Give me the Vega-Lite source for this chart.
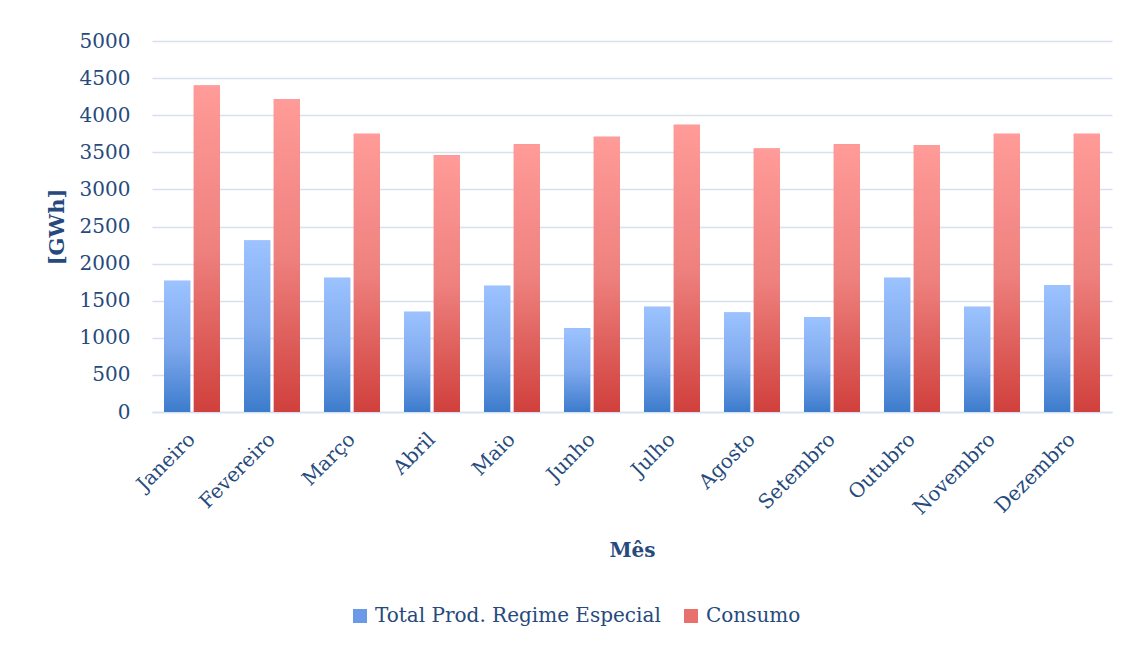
{
  "$schema": "https://vega.github.io/schema/vega-lite/v6.json",
  "width": 960,
  "height": 371,
  "autosize": {"type": "none"},
  "padding": {"left": 152, "top": 41, "right": 18, "bottom": 234},
  "background": "white",
  "config": {
    "font": "DejaVu Serif",
    "view": {"stroke": null}
  },
  "data": {
    "values": [
      {"mes": "Janeiro", "serie": "Total Prod. Regime Especial", "gwh": 1770},
      {"mes": "Janeiro", "serie": "Consumo", "gwh": 4400},
      {"mes": "Fevereiro", "serie": "Total Prod. Regime Especial", "gwh": 2310},
      {"mes": "Fevereiro", "serie": "Consumo", "gwh": 4220},
      {"mes": "Março", "serie": "Total Prod. Regime Especial", "gwh": 1810},
      {"mes": "Março", "serie": "Consumo", "gwh": 3750},
      {"mes": "Abril", "serie": "Total Prod. Regime Especial", "gwh": 1350},
      {"mes": "Abril", "serie": "Consumo", "gwh": 3460},
      {"mes": "Maio", "serie": "Total Prod. Regime Especial", "gwh": 1700},
      {"mes": "Maio", "serie": "Consumo", "gwh": 3610},
      {"mes": "Junho", "serie": "Total Prod. Regime Especial", "gwh": 1130},
      {"mes": "Junho", "serie": "Consumo", "gwh": 3710},
      {"mes": "Julho", "serie": "Total Prod. Regime Especial", "gwh": 1420},
      {"mes": "Julho", "serie": "Consumo", "gwh": 3870},
      {"mes": "Agosto", "serie": "Total Prod. Regime Especial", "gwh": 1340},
      {"mes": "Agosto", "serie": "Consumo", "gwh": 3550},
      {"mes": "Setembro", "serie": "Total Prod. Regime Especial", "gwh": 1280},
      {"mes": "Setembro", "serie": "Consumo", "gwh": 3610},
      {"mes": "Outubro", "serie": "Total Prod. Regime Especial", "gwh": 1810},
      {"mes": "Outubro", "serie": "Consumo", "gwh": 3600},
      {"mes": "Novembro", "serie": "Total Prod. Regime Especial", "gwh": 1420},
      {"mes": "Novembro", "serie": "Consumo", "gwh": 3750},
      {"mes": "Dezembro", "serie": "Total Prod. Regime Especial", "gwh": 1710},
      {"mes": "Dezembro", "serie": "Consumo", "gwh": 3750}
    ]
  },
  "encoding": {
    "x": {
      "field": "mes",
      "type": "nominal",
      "sort": null,
      "title": "Mês",
      "scale": {"paddingInner": 0.3, "paddingOuter": 0.15},
      "axis": {
        "labelAngle": -45,
        "labelAlign": "right",
        "labelBaseline": "middle",
        "labelPadding": 24,
        "labelFontSize": 20,
        "labelColor": "#264A7D",
        "ticks": false,
        "domainColor": "#D5E0F0",
        "domainWidth": 1.5,
        "titleFontSize": 20,
        "titleFontWeight": "bold",
        "titleColor": "#264A7D",
        "titlePadding": 22
      }
    },
    "xOffset": {
      "field": "serie",
      "type": "nominal",
      "sort": ["Total Prod. Regime Especial", "Consumo"],
      "scale": {"paddingInner": 0.12}
    },
    "y": {
      "field": "gwh",
      "type": "quantitative",
      "title": "[GWh]",
      "scale": {"domain": [0, 5000]},
      "axis": {
        "values": [0, 500, 1000, 1500, 2000, 2500, 3000, 3500, 4000, 4500, 5000],
        "format": "d",
        "labelFontSize": 20,
        "labelColor": "#264A7D",
        "labelPadding": 22,
        "ticks": false,
        "domain": false,
        "gridColor": "#D5E0F0",
        "gridWidth": 1.5,
        "titleFontSize": 21,
        "titleFontWeight": "bold",
        "titleColor": "#264A7D",
        "titlePadding": 12
      }
    }
  },
  "layer": [
    {
      "mark": {"type": "bar"},
      "encoding": {
        "color": {
          "field": "serie",
          "type": "nominal",
          "scale": {
            "domain": ["Total Prod. Regime Especial", "Consumo"],
            "range": ["#6D9AE6", "#E9716D"]
          },
          "legend": {
            "title": null,
            "orient": "none",
            "legendX": 198,
            "legendY": 565,
            "direction": "horizontal",
            "symbolType": "square",
            "symbolSize": 196,
            "symbolStrokeWidth": 0,
            "symbolOpacity": 1,
            "labelFontSize": 20,
            "labelColor": "#264A7D",
            "labelOffset": 5,
            "labelLimit": 400,
            "columnPadding": 20
          }
        }
      }
    },
    {
      "transform": [{"filter": "datum.serie === 'Total Prod. Regime Especial'"}],
      "mark": {
        "type": "bar",
        "color": {
          "gradient": "linear", "x1": 0, "y1": 0, "x2": 0, "y2": 1,
          "stops": [
            {"offset": 0, "color": "#9CC3FF"},
            {"offset": 0.5, "color": "#7FA9EE"},
            {"offset": 1, "color": "#3C7CCC"}
          ]
        }
      }
    },
    {
      "transform": [{"filter": "datum.serie === 'Consumo'"}],
      "mark": {
        "type": "bar",
        "color": {
          "gradient": "linear", "x1": 0, "y1": 0, "x2": 0, "y2": 1,
          "stops": [
            {"offset": 0, "color": "#FF9B98"},
            {"offset": 0.5, "color": "#EE817E"},
            {"offset": 1, "color": "#D0403C"}
          ]
        }
      }
    }
  ]
}
